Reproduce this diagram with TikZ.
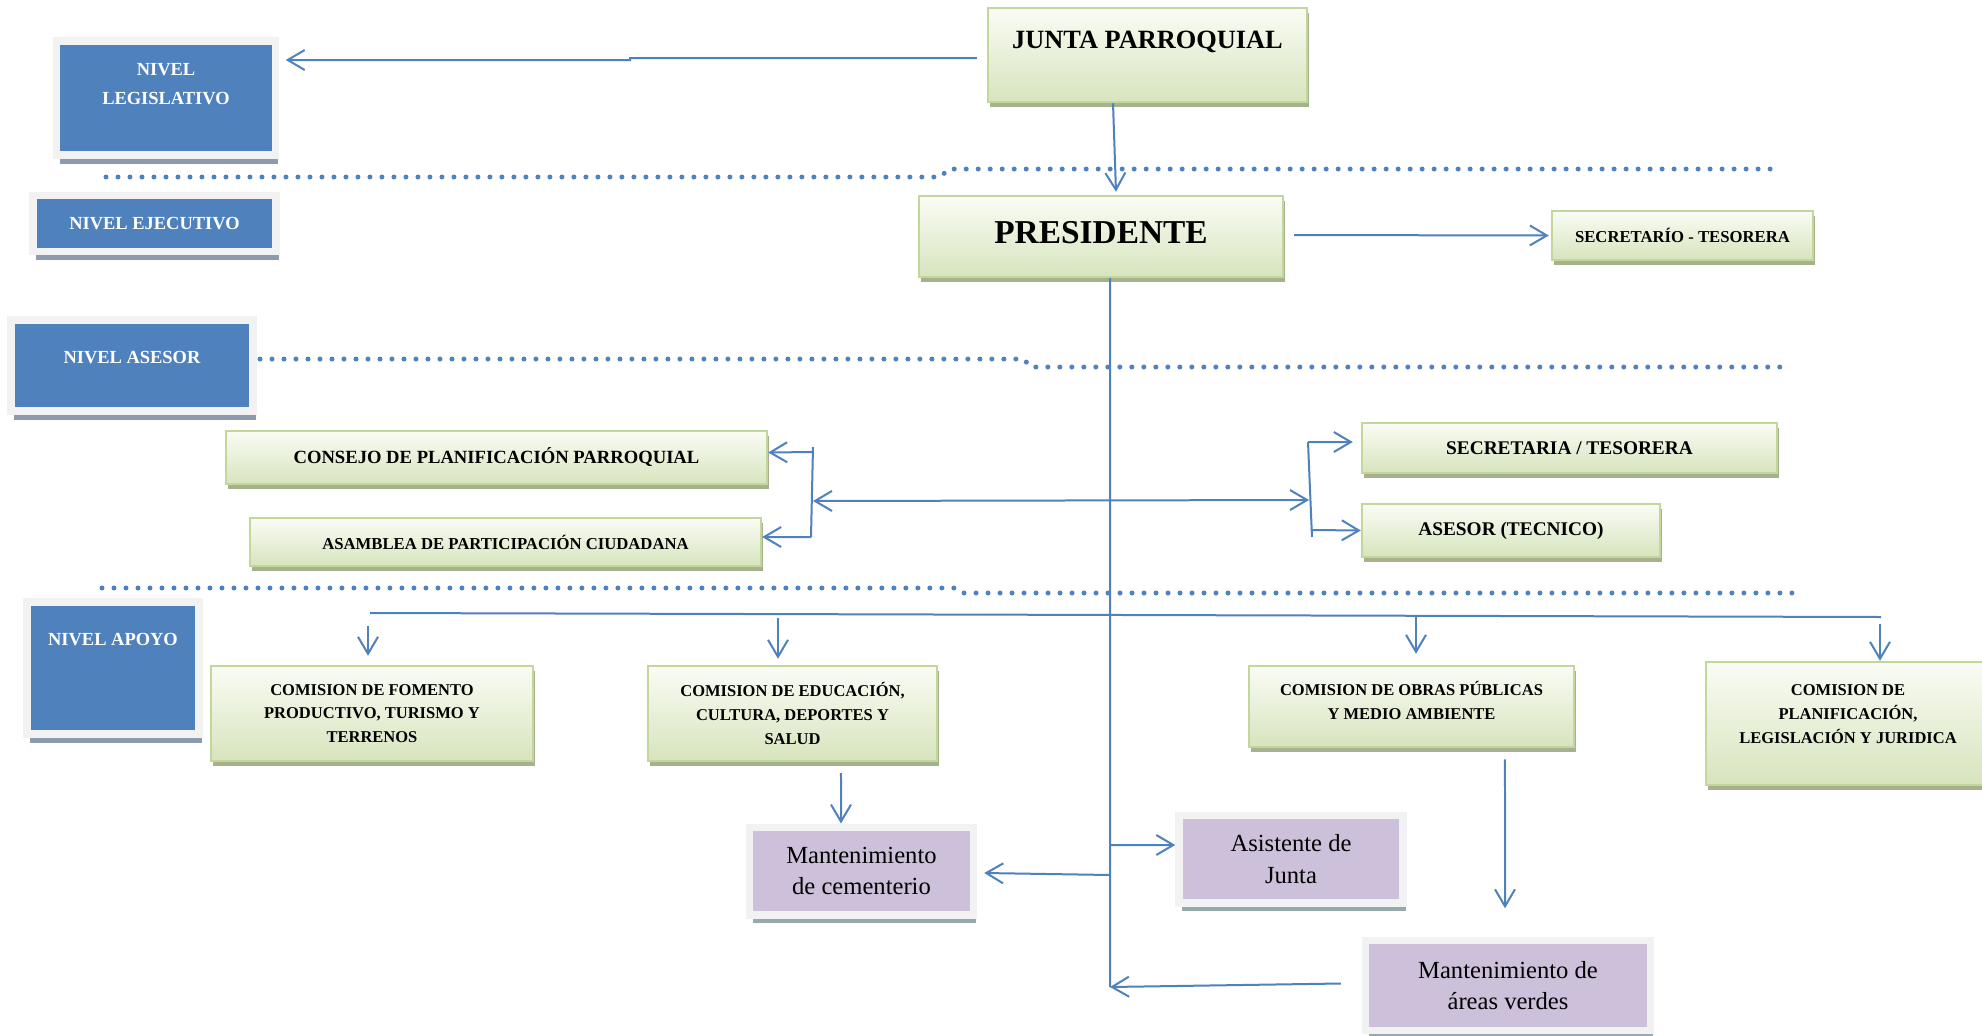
\documentclass[tikz,border=0pt]{standalone}
\usepackage{fontspec}
\setmainfont{Liberation Serif}
\usetikzlibrary{arrows.meta,shadows}
\definecolor{azul}{HTML}{4F81BD}
\definecolor{marco}{HTML}{F2F2F2}
\definecolor{sombraAzul}{HTML}{8E9BAF}
\definecolor{verdeBorde}{HTML}{C3D69B}
\definecolor{verdeArriba}{HTML}{FAFCF5}
\definecolor{verdeAbajo}{HTML}{D7E4BD}
\definecolor{sombraVerde}{HTML}{A6B28E}
\definecolor{lila}{HTML}{CCC0DA}
\definecolor{sombraLila}{HTML}{94AAAD}
\begin{document}
\begin{tikzpicture}[x=0.02cm,y=-0.02cm,
  >={Straight Barb[length=0.34cm,width=0.4cm]},
  nivel/.style={draw=marco,line width=0.15cm,fill=azul,text=white,inner sep=0pt,align=center,
    font=\bfseries\fontsize{10.5}{16.4}\selectfont,
    drop shadow={shadow xshift=0.06cm,shadow yshift=-0.18cm,fill=sombraAzul,opacity=1}},
  verde/.style={draw=verdeBorde,line width=0.05cm,top color=verdeArriba,bottom color=verdeAbajo,inner sep=0pt,align=center,
    font=\bfseries\fontsize{9.4}{13.6}\selectfont,
    drop shadow={shadow xshift=0.04cm,shadow yshift=-0.1cm,fill=sombraVerde,opacity=1}},
  lilabox/.style={draw=marco,line width=0.15cm,fill=lila,inner sep=0pt,align=center,
    font=\fontsize{14}{18}\selectfont,
    drop shadow={shadow xshift=0.06cm,shadow yshift=-0.17cm,fill=sombraLila,opacity=1}},
  conn/.style={azul,line width=0.04cm},
  puntos/.style={azul,line width=0.1cm,line cap=round,dash pattern=on 0pt off 0.24cm}]
  \path[use as bounding box,fill=white] (0,0) rectangle (1982,1035);
  % niveles
  \node[nivel,minimum width=4.38cm,minimum height=2.28cm,text height=1.26cm,text depth=1.02cm] (legis) at (166,98) {NIVEL\\LEGISLATIVO};
  \node[nivel,minimum width=4.86cm,minimum height=1.12cm] (ejec) at (154.5,223.5) {NIVEL EJECUTIVO};
  \node[nivel,minimum width=4.85cm,minimum height=1.82cm,text height=0.86cm,text depth=0.96cm] (asesorNivel) at (132,365.5) {NIVEL ASESOR};
  \node[nivel,minimum width=3.45cm,minimum height=2.65cm,text height=0.87cm,text depth=1.78cm] (apoyo) at (113,668) {NIVEL APOYO};
  % separadores
  \draw[puntos] (106,177) -- (941,177) -- (948,169) -- (1780,169);
  \draw[puntos] (260,359) -- (1024,359) -- (1030,367) -- (1788,367);
  \draw[puntos] (102,588) -- (954,588) -- (960,593) -- (1792,593);
  % cajas verdes
  \node[verde,font=\bfseries\fontsize{15}{18}\selectfont,minimum width=6.38cm,minimum height=1.88cm,text height=0.8cm,text depth=1.08cm] (junta) at (1147.5,55) {JUNTA PARROQUIAL};
  \node[verde,font=\bfseries\fontsize{19}{22}\selectfont,minimum width=7.28cm,minimum height=1.62cm,text height=0.94cm,text depth=0.68cm] (presi) at (1101,236.5) {PRESIDENTE};
  \node[verde,font=\bfseries\fontsize{9.5}{12}\selectfont,minimum width=5.22cm,minimum height=0.98cm] (secTes) at (1682.5,235.5) {SECRETARÍO - TESORERA};
  \node[verde,font=\bfseries\fontsize{10.6}{13}\selectfont,minimum width=10.82cm,minimum height=1.06cm] (consejo) at (496.5,457.5) {CONSEJO DE PLANIFICACIÓN PARROQUIAL};
  \node[verde,font=\bfseries\fontsize{9.5}{12}\selectfont,minimum width=10.22cm,minimum height=0.96cm] (asamblea) at (505.5,542) {ASAMBLEA DE PARTICIPACIÓN CIUDADANA};
  \node[verde,font=\bfseries\fontsize{11}{13}\selectfont,minimum width=8.3cm,minimum height=1cm] (secretaria) at (1569.5,448) {SECRETARIA / TESORERA};
  \node[verde,font=\bfseries\fontsize{11}{13}\selectfont,minimum width=5.96cm,minimum height=1.06cm] (asesor) at (1511,530.5) {ASESOR (TECNICO)};
  \node[verde,minimum width=6.44cm,minimum height=1.9cm] (fomento) at (372,713.5) {COMISION DE FOMENTO\\PRODUCTIVO, TURISMO Y\\TERRENOS};
  \node[verde,minimum width=5.78cm,minimum height=1.9cm] (educacion) at (792.5,713.5) {COMISION DE EDUCACIÓN,\\CULTURA, DEPORTES Y\\SALUD};
  \node[verde,minimum width=6.5cm,minimum height=1.62cm,text height=1.07cm,text depth=0.55cm] (obras) at (1411.5,706.5) {COMISION DE OBRAS PÚBLICAS\\Y MEDIO AMBIENTE};
  \node[verde,minimum width=5.68cm,minimum height=2.46cm,text height=1.63cm,text depth=0.83cm] (planif) at (1848,723.5) {COMISION DE\\PLANIFICACIÓN,\\LEGISLACIÓN Y JURIDICA};
  % cajas lila
  \node[lilabox,minimum width=4.48cm,minimum height=1.75cm] (cementerio) at (861.5,871) {Mantenimiento\\de cementerio};
  \node[lilabox,minimum width=4.48cm,minimum height=1.75cm] (asistente) at (1291,859) {Asistente de\\Junta};
  \node[lilabox,minimum width=5.7cm,minimum height=1.8cm] (areas) at (1508,985.5) {Mantenimiento de\\áreas verdes};
  % puntos de union
  \coordinate (jog) at (630,58);
  \coordinate (brL) at (813,501);
  \coordinate (brR) at (1309,500);
  \coordinate (brLT) at (813,452);
  \coordinate (brLB) at (811,537);
  \coordinate (brRT) at (1308,442);
  \coordinate (brRB) at (1312,530);
  \coordinate (distL) at (370,613);
  \coordinate (distR) at (1881,617);
  \coordinate (sAs) at (1110,845);
  \coordinate (sCe) at (1110,875);
  \coordinate (spineEnd) at (1110,987);
  % conectores
  \draw[conn,->] ([xshift=-0.2cm,yshift=-0.06cm]junta.west) -- (jog) |- ([xshift=0.13cm,yshift=0.76cm]legis.east);
  \draw[conn,->] ([xshift=-0.69cm]junta.south) -- ([xshift=0.3cm,yshift=0.06cm]presi.north);
  \draw[conn,->] ([xshift=0.2cm,yshift=0.03cm]presi.east) -- ([xshift=-0.04cm]secTes.west);
  \draw[conn] ([xshift=0.18cm]presi.south) -- (spineEnd);
  \draw[conn,<->] (brL) -- (brR);
  \draw[conn] ([yshift=0.1cm]brLT) -- (brLB);
  \draw[conn,->] (brLT) -- ([yshift=0.1cm]consejo.east);
  \draw[conn,->] (brLB) -- ([yshift=0.1cm]asamblea.east);
  \draw[conn] (brRT) -- ([yshift=-0.14cm]brRB);
  \draw[conn,->] (brRT) -- ([xshift=-0.16cm,yshift=0.12cm]secretaria.west);
  \draw[conn,->] (brRB) -- (asesor.west);
  \draw[conn] (distL) -- (distR);
  \draw[conn,->] ([xshift=-0.08cm,yshift=0.78cm]fomento.north) -- ([xshift=-0.08cm,yshift=0.18cm]fomento.north);
  \draw[conn,->] ([xshift=-0.29cm,yshift=0.94cm]educacion.north) -- ([xshift=-0.29cm,yshift=0.12cm]educacion.north);
  \draw[conn,->] ([xshift=0.09cm,yshift=0.98cm]obras.north) -- ([xshift=0.09cm,yshift=0.22cm]obras.north);
  \draw[conn,->] ([xshift=0.64cm,yshift=0.74cm]planif.north) -- ([xshift=0.64cm]planif.north);
  \draw[conn,->] ([xshift=0.97cm,yshift=-0.22cm]educacion.south) -- ([xshift=-0.41cm]cementerio.north);
  \draw[conn,->] (sAs) -- ([yshift=0.28cm]asistente.west);
  \draw[conn,->] (sCe) -- ([xshift=0.14cm,yshift=-0.04cm]cementerio.east);
  \draw[conn,->] ([xshift=1.87cm,yshift=-0.22cm]obras.south) -- ([xshift=-0.06cm,yshift=0.57cm]areas.north);
  \draw[conn,->] ([xshift=-0.42cm,yshift=0.04cm]areas.west) -- (spineEnd);
\end{tikzpicture}
\end{document}
